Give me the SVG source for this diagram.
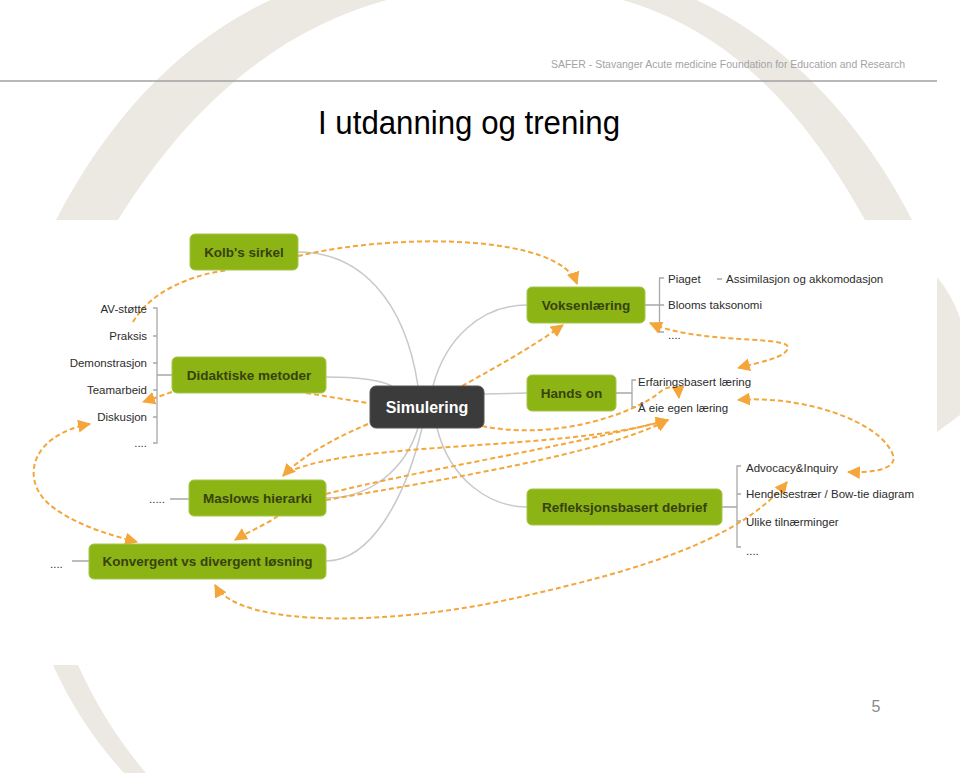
<svg xmlns="http://www.w3.org/2000/svg" width="960" height="773" viewBox="0 0 960 773">
<defs>
<style>
.arch{fill:#ece9e3}
.box{fill:#8bb414;stroke:#a6c64a;stroke-width:1}
.btxt{font-family:"Liberation Sans",Arial,sans-serif;font-weight:bold;font-size:13.5px;fill:#38420f;text-anchor:middle}
.item{font-family:"Liberation Sans",Arial,sans-serif;font-size:11.5px;fill:#2c2c2c}
.gl{fill:none;stroke:#c9c9c9;stroke-width:1.5}
.br{fill:none;stroke:#a8a8a8;stroke-width:1.3}
.dash{fill:none;stroke:#f4a63a;stroke-width:2;stroke-dasharray:5 3}
.arr{marker-end:url(#ah)}
.arr2{marker-start:url(#ah);marker-end:url(#ah)}
</style>
<marker id="ah" viewBox="0 0 12 12" refX="11" refY="6" markerWidth="13" markerHeight="13" markerUnits="userSpaceOnUse" orient="auto-start-reverse">
<path d="M0,0 L12,6 L0,12 Z" fill="#f4a63a"/>
</marker>
</defs>
<rect width="960" height="773" fill="#ffffff"/>
<g id="background">
<path class="arch" d="M56,220 C150,40 290,-45 490,-45 C690,-45 830,60 912,220 L865,220 C760,30 640,-15 503,-15 C366,-15 230,40 118,220 Z"/>
<path class="arch" d="M53,665 Q80,725 124,773 L146,773 Q105,725 78,665 Z"/>
<path class="arch" d="M937,277 Q952,295 960,318 L960,415 L937,432 Z"/>
<line x1="0" y1="81" x2="937" y2="81" stroke="#a0a0a0" stroke-width="1.5"/>
<text x="905" y="68" text-anchor="end" font-family="Liberation Sans, Arial, sans-serif" font-size="10.5" fill="#a3a3a3" textLength="354" lengthAdjust="spacingAndGlyphs">SAFER - Stavanger Acute medicine Foundation for Education and Research</text>
<text x="318" y="134" font-family="Liberation Sans, Arial, sans-serif" font-size="34" fill="#000" textLength="302" lengthAdjust="spacingAndGlyphs">I utdanning og trening</text>
<text x="876" y="712" text-anchor="middle" font-family="Liberation Sans, Arial, sans-serif" font-size="16" fill="#8a8a8a">5</text>
</g>
<g id="branches">
<path class="gl" d="M298,252 C360,252 405,300 418,386"/>
<path class="gl" d="M326,377 C355,377 380,380 392,386"/>
<path class="gl" d="M527,305 C480,305 445,340 433,386"/>
<path class="gl" d="M484,394 L527,393"/>
<path class="gl" d="M437,428 C450,480 490,507 527,507"/>
<path class="gl" d="M418,428 C405,470 370,498 326,498"/>
<path class="gl" d="M326,561 C370,561 405,500 422,428"/>
<path class="br" d="M153,308 H157 V443 H153 M153,336 H157 M153,363 H157 M153,390 H157 M153,417 H157 M157,375 H172"/>
<path class="br" d="M170,499 H189 M72,561 H89"/>
<path class="br" d="M664,278 H659.5 V332 H664 M659.5,305 H664 M645,305 H659.5 M717,279 H722"/>
<path class="br" d="M636,380 H632 V407 H636 M616,393 H632"/>
<path class="br" d="M741,466 H737 V547 H741 M737,494 H741 M737,521 H741 M722,507 H737"/>
</g>
<g id="connectors">
<path class="dash arr" d="M298,256 C400,232 560,235 577,284"/>
<path class="dash" d="M133,322 C150,292 190,275 228,270"/>
<path class="dash arr" d="M172,392 C160,396 152,399 143,402"/>
<path class="dash" d="M306,393 C330,397 350,400 368,403"/>
<path class="dash arr" d="M368,424 C330,440 300,458 283,476"/>
<path class="dash arr" d="M462,386 C500,365 535,345 563,325"/>
<path class="dash arr2" d="M650,323 C700,345 790,335 788,348 C785,358 760,362 738,368"/>
<path class="dash arr" d="M482,426 C560,442 640,410 660,392 C670,384 678,386 679,398"/>
<path class="dash arr" d="M288,472 C360,440 560,452 668,420"/>
<path class="dash arr" d="M326,494 C420,470 560,448 668,420"/>
<path class="dash arr" d="M326,500 C440,480 600,455 668,420"/>
<path class="dash arr2" d="M738,400 C800,395 880,420 893,455 C898,470 870,473 848,472"/>
<path class="dash arr2" d="M215,585 C240,630 400,625 520,597 C640,570 740,540 787,482"/>
<path class="dash arr2" d="M90,424 C30,435 20,480 50,505 C75,525 110,535 137,542"/>
<path class="dash arr" d="M278,516 C265,525 248,532 235,540"/>
</g>
<g id="av-liste">
<text class="item" x="147" y="313" text-anchor="end">AV-støtte</text>
<text class="item" x="147" y="340" text-anchor="end">Praksis</text>
<text class="item" x="147" y="367" text-anchor="end">Demonstrasjon</text>
<text class="item" x="147" y="394" text-anchor="end">Teamarbeid</text>
<text class="item" x="147" y="421" text-anchor="end">Diskusjon</text>
<text class="item" x="147" y="447" text-anchor="end">....</text>
</g>
<g id="kolb">
<rect class="box" x="190" y="234" width="108" height="36" rx="5"/>
<text class="btxt" x="244" y="257">Kolb's sirkel</text>
</g>
<g id="didaktiske">
<rect class="box" x="172" y="357" width="154" height="36" rx="5"/>
<text class="btxt" x="249" y="380">Didaktiske metoder</text>
</g>
<g id="simulering">
<rect x="370" y="386" width="114" height="42" rx="6" fill="#3b3b3b" stroke="#555" stroke-width="1"/>
<text x="427" y="413" text-anchor="middle" font-family="Liberation Sans, Arial, sans-serif" font-weight="bold" font-size="16" fill="#ffffff">Simulering</text>
</g>
<g id="voksenlaering">
<rect class="box" x="527" y="287" width="118" height="36" rx="5"/>
<text class="btxt" x="586" y="310">Voksenlæring</text>
<text class="item" x="668" y="283">Piaget</text>
<text class="item" x="726" y="283">Assimilasjon og akkomodasjon</text>
<text class="item" x="668" y="309">Blooms taksonomi</text>
<text class="item" x="668" y="339">....</text>
</g>
<g id="hands-on">
<rect class="box" x="527" y="375" width="89" height="36" rx="5"/>
<text class="btxt" x="571.5" y="398">Hands on</text>
<text class="item" x="638" y="386">Erfaringsbasert læring</text>
<text class="item" x="638" y="412">Å eie egen læring</text>
</g>
<g id="maslows">
<text class="item" x="149" y="503">.....</text>
<rect class="box" x="189" y="480" width="137" height="36" rx="5"/>
<text class="btxt" x="257.5" y="503">Maslows hierarki</text>
</g>
<g id="refleksjon">
<rect class="box" x="527" y="489" width="195" height="36" rx="5"/>
<text class="btxt" x="624.5" y="512">Refleksjonsbasert debrief</text>
<text class="item" x="746" y="472">Advocacy&amp;Inquiry</text>
<text class="item" x="746" y="498">Hendelsestrær / Bow-tie diagram</text>
<text class="item" x="746" y="526">Ulike tilnærminger</text>
<text class="item" x="746" y="555">....</text>
</g>
<g id="konvergent">
<text class="item" x="50" y="568">....</text>
<rect class="box" x="89" y="544" width="237" height="35" rx="5"/>
<text class="btxt" x="207.5" y="566">Konvergent vs divergent løsning</text>
</g>
</svg>
